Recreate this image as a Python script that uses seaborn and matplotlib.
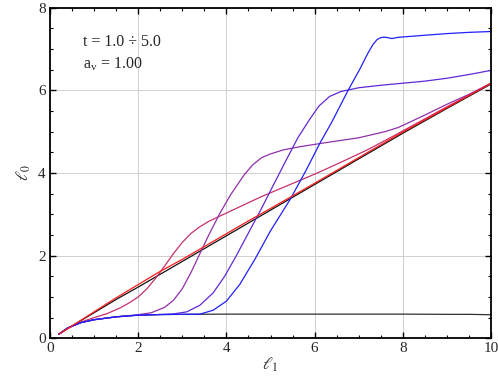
import numpy as np
import pandas as pd
import matplotlib
matplotlib.use("Agg")
import matplotlib.pyplot as plt
from matplotlib.ticker import MultipleLocator
import seaborn as sns

# curves
# shared initial rise / plateau
plat_x = [0.2, 0.4, 0.7, 1.0, 1.5, 2.0, 2.5, 3.0, 4.0, 5.0, 6.0, 7.0, 8.0, 9.0, 9.5, 10.0]
plat_y = [0.10, 0.25, 0.38, 0.45, 0.52, 0.56, 0.575, 0.58, 0.585, 0.585, 0.585, 0.585, 0.585, 0.58, 0.58, 0.57]

diag_x = [0.2, 0.5, 1.0, 1.5, 2.0, 3.0, 4.0, 5.0, 6.0, 7.0, 8.0, 9.0, 10.0]
diag_y = [0.10, 0.30, 0.62, 0.94, 1.24, 1.86, 2.48, 3.10, 3.72, 4.34, 4.96, 5.56, 6.15]

red_x = [0.2, 0.5, 1.0, 1.5, 2.0, 2.5, 3.0, 3.5, 4.0, 4.5, 5.0, 6.0, 7.0, 8.0, 9.0, 10.0]
red_y = [0.10, 0.30, 0.64, 0.98, 1.30, 1.62, 1.91, 2.22, 2.53, 2.84, 3.14, 3.75, 4.37, 4.99, 5.58, 6.17]

crim_x = [0.2, 0.5, 0.8, 1.0, 1.3, 1.6, 1.8, 2.0, 2.2, 2.4, 2.6, 2.8, 3.0, 3.2, 3.4, 3.6, 3.9, 4.3,
          4.8, 5.4, 6.0, 6.6, 7.2, 7.8, 8.4, 9.0, 9.5, 10.0]
crim_y = [0.10, 0.30, 0.43, 0.50, 0.60, 0.74, 0.86, 1.00, 1.20, 1.46, 1.75, 2.05, 2.32, 2.54, 2.70, 2.83, 2.98, 3.18,
          3.43, 3.70, 3.97, 4.26, 4.56, 4.90, 5.25, 5.60, 5.88, 6.17]

purp_x = [0.2, 0.4, 0.7, 1.0, 1.5, 2.0, 2.3, 2.6, 2.8, 3.0, 3.2, 3.4, 3.6, 3.85, 4.1, 4.4,
          4.6, 4.8, 5.0, 5.3, 5.7, 6.3, 7.0, 7.6, 7.9, 8.1, 8.5, 9.0, 9.5, 10.0]
purp_y = [0.10, 0.25, 0.38, 0.45, 0.52, 0.57, 0.62, 0.75, 0.92, 1.20, 1.60, 2.05, 2.50, 3.02, 3.48, 3.95,
          4.20, 4.37, 4.46, 4.56, 4.64, 4.74, 4.85, 5.00, 5.10, 5.20, 5.40, 5.66, 5.90, 6.17]

viol_x = [0.2, 0.4, 0.7, 1.0, 1.5, 2.0, 2.5, 2.8, 3.1, 3.4, 3.7, 3.96, 4.2, 4.45, 4.8, 5.1,
          5.36, 5.62, 5.89, 6.1, 6.34, 6.6, 7.0, 7.5, 8.0, 8.5, 9.0, 9.5, 10.0]
viol_y = [0.10, 0.25, 0.38, 0.45, 0.52, 0.56, 0.575, 0.59, 0.64, 0.80, 1.10, 1.50, 1.95, 2.45, 3.15, 3.78,
          4.32, 4.85, 5.30, 5.62, 5.85, 5.97, 6.06, 6.12, 6.17, 6.22, 6.29, 6.38, 6.48]

blue_x = [0.2, 0.4, 0.7, 1.0, 1.5, 2.0, 2.5, 3.0, 3.4, 3.7, 4.0, 4.3, 4.64, 5.0, 5.44, 5.8,
          6.12, 6.4, 6.76, 7.02, 7.2, 7.32, 7.42, 7.52, 7.62, 7.75, 7.9, 8.5, 9.0, 9.5, 10.0]
blue_y = [0.10, 0.25, 0.38, 0.45, 0.52, 0.56, 0.575, 0.58, 0.585, 0.68, 0.90, 1.30, 1.90, 2.60, 3.35, 4.05,
          4.72, 5.25, 6.00, 6.50, 6.88, 7.10, 7.23, 7.28, 7.28, 7.25, 7.28, 7.33, 7.37, 7.40, 7.42]

curves = [
    (plat_x, plat_y, "#303030"),
    (diag_x, diag_y, "#111111"),
    (crim_x, crim_y, "#c8306e"),
    (purp_x, purp_y, "#9030a8"),
    (viol_x, viol_y, "#6028d8"),
    (blue_x, blue_y, "#2020ff"),
    (red_x, red_y, "#ff1a1a"),
]

sns.set_style("ticks")
plt.rcParams["font.family"] = ["Liberation Serif", "DejaVu Serif"]
plt.rcParams["mathtext.fontset"] = "stix"

fig = plt.figure(figsize=(4.98, 3.77), dpi=100)
ax = fig.add_axes([0.1004, 0.1026, 0.8856, 0.8774])

for xs, ys, col in curves:
    df = pd.DataFrame({"x": xs, "y": ys})
    sns.lineplot(data=df, x="x", y="y", ax=ax, color=col, lw=0.9,
                 sort=False, estimator=None)

ax.set_xlim(0, 10)
ax.set_ylim(0, 8)
ax.xaxis.set_major_locator(MultipleLocator(2))
ax.yaxis.set_major_locator(MultipleLocator(2))
ax.xaxis.set_minor_locator(MultipleLocator(0.5))
ax.yaxis.set_minor_locator(MultipleLocator(0.5))
ax.grid(True, which="major", color="#d0d0d0", lw=0.7)
ax.set_axisbelow(True)
ax.tick_params(which="both", direction="in", top=True, right=True,
               labelsize=11, color="black", pad=3)
ax.tick_params(which="major", length=4, width=1)
ax.tick_params(which="minor", length=2.5, width=0.8)
for s in ax.spines.values():
    s.set_linewidth(1.3)
    s.set_color("black")

ax.set_xlabel(r"$\ell_1$", fontsize=12, labelpad=0)
ax.set_ylabel(r"$\ell_0$", fontsize=12, labelpad=4)

ax.text(0.75, 7.17, "t = 1.0 ÷ 5.0", fontsize=11.5, va="center", ha="left")
ax.text(0.75, 6.62, r"a$_\mathregular{v}$ = 1.00", fontsize=11.5, va="center", ha="left")

fig.savefig("out.png", dpi=100)
